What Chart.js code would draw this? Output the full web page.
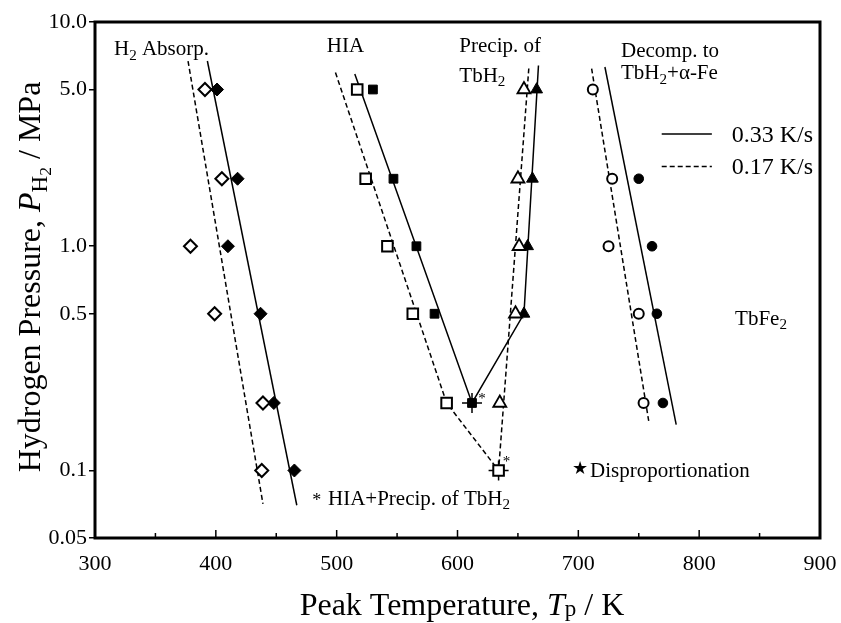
<!DOCTYPE html>
<html>
<head>
<meta charset="utf-8">
<script src="https://cdn.jsdelivr.net/npm/chart.js@4.4.0/dist/chart.umd.min.js"></script>
<style>
  body { margin: 0; background: #fff; }
  #wrap { width: 841px; height: 623px; }
</style>
</head>
<body>
<div id="wrap"><canvas id="myChart" width="841" height="623"></canvas></div>
<script>
// data block (peak temperatures in K, pressures in MPa)
const pressures = [5.0, 2.0, 1.0, 0.5, 0.2, 0.1];

const absorpSlowT = [391, 405, 379, 399, 439, 438];
const absorpFastT = [401, 418, 410, 437, 448, 465];
const hiaSlowT = [517, 524, 542, 563, 591, 634];
const hiaFastT = [530, 547, 566, 581, 612];
const precipSlowT = [655, 650, 651, 648, 635];
const precipFastT = [665.5, 662, 658, 655];
const decompSlowT = [712, 728, 725, 750, 754];
const decompFastT = [750, 761, 765, 770];
const decompFastP = [2.0, 1.0, 0.5, 0.2];

// fitted lines
const absorpFastLineT = [393, 467];
const absorpFastLineP = [6.7, 0.070];
const absorpSlowLineT = [377, 439];
const absorpSlowLineP = [6.7, 0.071];
const hiaFastLineT = [515, 612, 655, 667];
const hiaFastLineP = [5.87, 0.2, 0.5, 6.4];
const hiaSlowLineT = [499, 591, 634, 659];
const hiaSlowLineP = [5.95, 0.2, 0.1, 6.2];
const decompFastLineT = [722, 781];
const decompFastLineP = [6.3, 0.16];
const decompSlowLineT = [711, 758.5];
const decompSlowLineP = [6.2, 0.163];

// points marked "HIA+Precip. of TbH2"
const crossT = [612, 634];
const crossP = [0.2, 0.1];

// tick labels
const xTicks = [300, 400, 500, 600, 700, 800, 900];
const yTicks = [0.05, 0.1, 0.5, 1.0, 5.0, 10.0];
const yTickLabels = ['0.05', '0.1', '0.5', '1.0', '5.0', '10.0'];

const SERIF = '"Liberation Serif", "Times New Roman", serif';

const zip = (ts, ps) => ts.map((t, i) => ({ x: t, y: ps[i] }));

const marker = (data, style, radius, filled, bw) => ({
    data: data,
    showLine: false,
    pointStyle: style,
    pointRadius: radius,
    pointBackgroundColor: filled ? '#000' : '#fff',
    pointBorderColor: '#000',
    pointBorderWidth: bw
});

const fitLine = (data, dashed) => ({
    data: data,
    showLine: true,
    pointRadius: 0,
    borderColor: '#000',
    borderWidth: 1.5,
    borderDash: dashed ? [5, 3] : [],
    tension: 0,
    fill: false
});

// rich text: segments [text, kind]
// n = normal, i = italic, s = subscript, ss = sub-subscript, sp = small, barely lowered
function drawRich(ctx, segs, x, y, size, align) {
    const fontFor = k => {
        const s = (k === 's' || k === 'sp') ? size * 0.72 : k === 'ss' ? size * 0.55 : size;
        return (k === 'i' ? 'italic ' : '') + s + 'px ' + SERIF;
    };
    const shift = k => k === 's' ? size * 0.22 : k === 'ss' ? size * 0.36 : k === 'sp' ? size * 0.05 : 0;
    let w = 0;
    segs.forEach(([t, k]) => { ctx.font = fontFor(k); w += ctx.measureText(t).width; });
    let cx = align === 'center' ? x - w / 2 : align === 'right' ? x - w : x;
    const base = y + size * 0.33;
    ctx.textAlign = 'left';
    ctx.textBaseline = 'alphabetic';
    segs.forEach(([t, k]) => {
        ctx.font = fontFor(k);
        ctx.fillText(t, cx, base + shift(k));
        cx += ctx.measureText(t).width;
    });
}

// text labels placed in data coordinates
const notes = [
    { t: 315.7, p: 7.65, segs: [['H', 'n'], ['2', 's'], [' Absorp.', 'n']] },
    { t: 491.8, p: 7.89, segs: [['HIA', 'n']] },
    { t: 601.5, p: 7.89, segs: [['Precip. of', 'n']] },
    { t: 601.5, p: 5.81, segs: [['TbH', 'n'], ['2', 's']] },
    { t: 735.3, p: 7.5, segs: [['Decomp. to', 'n']] },
    { t: 735.3, p: 5.98, segs: [['TbH', 'n'], ['2', 's'], ['+\u03b1-Fe', 'n']] },
    { t: 829.7, p: 0.479, segs: [['TbFe', 'n'], ['2', 's']] },
    { t: 709.7, p: 0.1007, segs: [['Disproportionation', 'n']] },
    { t: 492.8, p: 0.0755, segs: [['HIA+Precip. of TbH', 'n'], ['2', 's']] }
];

const frameAndText = {
    id: 'frameAndText',
    beforeDraw(chart) {
        const { ctx } = chart;
        ctx.save();
        ctx.fillStyle = '#fff';
        ctx.fillRect(0, 0, chart.width, chart.height);
        ctx.restore();
    },
    afterDraw(chart) {
        const { ctx, chartArea: { top, bottom, left, right }, scales: { x, y } } = chart;
        ctx.save();
        ctx.fillStyle = '#000';
        ctx.strokeStyle = '#000';

        // inward ticks on the x axis
        ctx.lineWidth = 1.5;
        x.ticks.forEach(tk => {
            const px = x.getPixelForValue(tk.value);
            const len = tk.value % 100 === 0 ? 8 : 5;
            ctx.beginPath();
            ctx.moveTo(px, bottom);
            ctx.lineTo(px, bottom - len);
            ctx.stroke();
        });

        // frame
        ctx.lineWidth = 3;
        ctx.strokeRect(left, top, right - left, bottom - top);

        // notes
        notes.forEach(n => {
            drawRich(ctx, n.segs, x.getPixelForValue(n.t), y.getPixelForValue(n.p), 21, 'left');
        });

        // star and asterisks
        ctx.font = '18px "DejaVu Sans"';
        ctx.textAlign = 'center';
        ctx.textBaseline = 'middle';
        ctx.fillText('\u2605', x.getPixelForValue(701.4), y.getPixelForValue(0.1007));
        ctx.font = '18px ' + SERIF;
        ctx.fillText('*', x.getPixelForValue(483.5), y.getPixelForValue(0.0755) + 3);
        ctx.font = '15px ' + SERIF;
        ctx.fillText('*', x.getPixelForValue(crossT[0]) + 10, y.getPixelForValue(crossP[0]) - 4);
        ctx.fillText('*', x.getPixelForValue(crossT[1]) + 8, y.getPixelForValue(crossP[1]) - 8);

        // legend
        const lx1 = x.getPixelForValue(769), lx2 = x.getPixelForValue(810.5);
        const ly1 = y.getPixelForValue(3.17), ly2 = y.getPixelForValue(2.27);
        ctx.lineWidth = 1.5;
        ctx.beginPath();
        ctx.moveTo(lx1, ly1);
        ctx.lineTo(lx2, ly1);
        ctx.stroke();
        ctx.setLineDash([5, 3]);
        ctx.beginPath();
        ctx.moveTo(lx1, ly2);
        ctx.lineTo(lx2, ly2);
        ctx.stroke();
        ctx.setLineDash([]);
        const tx = x.getPixelForValue(827);
        drawRich(ctx, [['0.33 K/s', 'n']], tx, ly1, 24, 'left');
        drawRich(ctx, [['0.17 K/s', 'n']], tx, ly2, 24, 'left');

        // axis titles
        drawRich(ctx, [['Peak Temperature, ', 'n'], ['T', 'i'], ['p', 'sp'], [' / K', 'n']], 462, 604, 32, 'center');
        ctx.save();
        ctx.translate(29, 277);
        ctx.rotate(-Math.PI / 2);
        drawRich(ctx, [['Hydrogen Pressure, ', 'n'], ['P', 'i'], ['H', 's'], ['2', 'ss'], [' / MPa', 'n']], 0, 0, 32, 'center');
        ctx.restore();

        ctx.restore();
    }
};

const data = {
    datasets: [
        marker(zip(absorpSlowT, pressures), 'rectRot', 6.5, false, 2),
        marker(zip(absorpFastT, pressures), 'rectRot', 6.5, true, 1),
        marker(zip(hiaSlowT, pressures), 'rect', 7.5, false, 2),
        marker(zip(hiaFastT, pressures), 'rect', 6.2, true, 1),
        marker(zip(precipSlowT, pressures), 'triangle', 7.5, false, 1.8),
        marker(zip(precipFastT, pressures), 'triangle', 6.8, true, 1),
        marker(zip(decompSlowT, pressures), 'circle', 5, false, 2),
        marker(zip(decompFastT, decompFastP), 'circle', 4.8, true, 1),
        marker(zip(crossT, crossP), 'cross', 10, false, 1.5),
        fitLine(zip(absorpFastLineT, absorpFastLineP), false),
        fitLine(zip(absorpSlowLineT, absorpSlowLineP), true),
        fitLine(zip(hiaFastLineT, hiaFastLineP), false),
        fitLine(zip(hiaSlowLineT, hiaSlowLineP), true),
        fitLine(zip(decompFastLineT, decompFastLineP), false),
        fitLine(zip(decompSlowLineT, decompSlowLineP), true)
    ]
};

const config = {
    type: 'scatter',
    data: data,
    options: {
        responsive: false,
        animation: false,
        events: [],
        devicePixelRatio: 1,
        layout: { padding: { top: 22, right: 21, left: 0, bottom: 0 } },
        plugins: {
            legend: { display: false },
            tooltip: { enabled: false },
            title: { display: false }
        },
        scales: {
            x: {
                type: 'linear',
                min: 300,
                max: 900,
                afterFit: scale => {
                    scale.height = 85;
                    scale.paddingLeft = 0;
                    scale.paddingRight = 0;
                },
                ticks: {
                    stepSize: 50,
                    autoSkip: false,
                    maxRotation: 0,
                    padding: 5,
                    color: '#000',
                    font: { family: SERIF, size: 22 },
                    callback: v => xTicks.includes(v) ? String(v) : ''
                },
                grid: { display: false },
                border: { display: false }
            },
            y: {
                type: 'logarithmic',
                min: 0.05,
                max: 10,
                afterFit: scale => {
                    scale.width = 95;
                    scale.paddingTop = 0;
                    scale.paddingBottom = 0;
                },
                afterBuildTicks: scale => { scale.ticks = yTicks.map(v => ({ value: v })); },
                ticks: {
                    autoSkip: false,
                    padding: 2,
                    color: '#000',
                    font: { family: SERIF, size: 22 },
                    callback: v => {
                        const i = yTicks.indexOf(v);
                        return i >= 0 ? yTickLabels[i] : '';
                    }
                },
                grid: {
                    display: true,
                    drawOnChartArea: false,
                    drawTicks: true,
                    tickLength: 6,
                    color: '#000',
                    lineWidth: 1.5
                },
                border: { display: false }
            }
        }
    },
    plugins: [frameAndText]
};

const ctx = document.getElementById('myChart');
const myChart = new Chart(ctx, config);
</script>
</body>
</html>
